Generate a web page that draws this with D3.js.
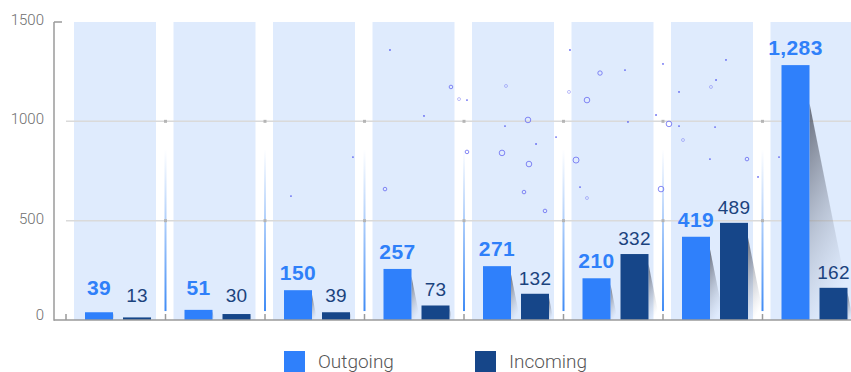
<!DOCTYPE html>
<html>
<head>
<meta charset="utf-8">
<script src="https://cdn.jsdelivr.net/npm/d3@7/dist/d3.min.js"></script>
<style>
  html, body { margin: 0; padding: 0; background: #fff; overflow: hidden; }
  svg { display: block; }
</style>
</head>
<body>
<svg id="chart" width="851" height="372"></svg>
<script>
// ---- data ----
const categories = ["A", "B", "C", "D", "E", "F", "G", "H"];
const seriesNames = ["Outgoing", "Incoming"];
const outgoing = [39, 51, 150, 257, 271, 210, 419, 1283];
const incoming = [13, 30, 39, 73, 132, 332, 489, 162];
const yTicks = [0, 500, 1000, 1500];

// decorative particles, in (category position, value) units
const ringParticles = [
  [4.643, 1007, 2.8], [4.382, 841, 2.8], [4.653, 785, 2.8], [5.236, 1107, 2.8],
  [5.126, 805, 3.0], [5.367, 1243, 2.2], [6.060, 987, 2.8], [5.980, 659, 2.8],
  [6.844, 810, 1.8], [4.603, 644, 1.8], [4.814, 549, 1.8], [3.869, 1173, 1.8],
  [3.206, 659, 1.8], [4.030, 846, 1.8], [4.422, 1178, 1.5], [6.482, 1173, 1.5],
  [6.201, 906, 1.5], [5.055, 1148, 1.5], [5.236, 614, 1.5], [3.950, 1112, 1.5]
];
const dotParticles = [
  [3.256, 1359], [4.030, 1107], [3.598, 1027], [2.884, 820], [2.261, 624],
  [4.412, 976], [4.724, 886], [4.925, 921], [5.618, 1258], [5.648, 997],
  [5.930, 1032], [6.000, 1289], [6.161, 976], [6.161, 1148], [6.533, 1208],
  [6.523, 971], [6.633, 1309], [6.472, 810], [5.065, 1359], [7.166, 820],
  [6.955, 720], [5.166, 669]
];

// ---- colours & fonts ----
const colors = { Outgoing: "#2f80fb", Incoming: "#164689" };
const labelColors = { Outgoing: "#2f80f9", Incoming: "#1b437e" };
const thinFont = "Roboto, 'Liberation Sans', sans-serif";
const labelFont = "'Liberation Sans', Arial, sans-serif";

// ---- scales ----
const axisLeft = 54, axisRight = 851;
const y = d3.scaleLinear().domain([0, 1500]).range([320, 22]);
const x = d3.scaleBand().domain(categories).range([66, 862]).paddingInner(0).paddingOuter(0);
const xPos = d3.scaleLinear().domain([0, categories.length]).range(x.range());
const colInset = 8, colWidth = 82;
const sub = d3.scaleBand().domain(seriesNames).range([19, 85]).paddingInner(0.2632).paddingOuter(0);

const svg = d3.select("#chart");
const defs = svg.append("defs");

// shadow gradient (fades downward)
const sg = defs.append("linearGradient").attr("id", "shadowGrad")
  .attr("x1", 0).attr("y1", 0).attr("x2", 0.35).attr("y2", 1);
sg.append("stop").attr("offset", "0%").attr("stop-color", "#4b4f5c").attr("stop-opacity", 0.8);
sg.append("stop").attr("offset", "55%").attr("stop-color", "#6a7080").attr("stop-opacity", 0.32);
sg.append("stop").attr("offset", "100%").attr("stop-color", "#8a93a8").attr("stop-opacity", 0.0);

// separator gradient (transparent at top, blue at bottom)
const lg = defs.append("linearGradient").attr("id", "sepGrad")
  .attr("gradientUnits", "userSpaceOnUse")
  .attr("x1", 0).attr("y1", y(860)).attr("x2", 0).attr("y2", y(45));
lg.append("stop").attr("offset", "0%").attr("stop-color", "#ffffff").attr("stop-opacity", 0.9);
lg.append("stop").attr("offset", "100%").attr("stop-color", "#3f8bf5").attr("stop-opacity", 1);

// ---- column backgrounds ----
svg.append("g").selectAll("rect").data(categories).join("rect")
  .attr("x", d => x(d) + colInset)
  .attr("y", y(1500))
  .attr("width", colWidth)
  .attr("height", y(0) - y(1500))
  .attr("fill", "#dfebfd");

// ---- separators between columns ----
svg.append("g").selectAll("rect").data(categories.slice(1)).join("rect")
  .attr("x", d => x(d) - 1)
  .attr("y", y(860))
  .attr("width", 2)
  .attr("height", y(45) - y(860))
  .attr("fill", "url(#sepGrad)");

// ---- gridlines ----
const grid = svg.append("g");
grid.selectAll("line").data(yTicks.filter(t => t > 0 && t < 1500)).join("line")
  .attr("x1", x.range()[0]).attr("x2", axisRight)
  .attr("y1", d => y(d)).attr("y2", d => y(d))
  .attr("stroke", "#dadada").attr("stroke-width", 1.5);
// small marks where gridlines cross the column boundaries
const crossings = [];
yTicks.filter(t => t > 0 && t < 1500).forEach(t => categories.slice(1).forEach(c => crossings.push([c, t])));
grid.selectAll("rect").data(crossings).join("rect")
  .attr("x", d => x(d[0]) - 1.5).attr("y", d => y(d[1]) - 1.5)
  .attr("width", 3).attr("height", 3).attr("fill", "#b5b5b5");

// ---- particles ----
const pg = svg.append("g");
pg.selectAll("circle.ring").data(ringParticles).join("circle")
  .attr("class", "ring")
  .attr("cx", d => xPos(d[0])).attr("cy", d => y(d[1])).attr("r", d => d[2])
  .attr("fill", "none").attr("stroke", "#6f72f2")
  .attr("stroke-opacity", d => d[2] < 1.7 ? 0.45 : 0.85).attr("stroke-width", 1);
pg.selectAll("circle.dot").data(dotParticles).join("circle")
  .attr("class", "dot")
  .attr("cx", d => xPos(d[0])).attr("cy", d => y(d[1])).attr("r", 0.9)
  .attr("fill", "#4a4ff0").attr("fill-opacity", 0.85);

// ---- bars with their shadows ----
const rows = [];
categories.forEach((c, i) => {
  rows.push({ cat: c, series: "Outgoing", value: outgoing[i] });
  rows.push({ cat: c, series: "Incoming", value: incoming[i] });
});
const barX = d => x(d.cat) + sub(d.series);

svg.append("g").selectAll("path").data(rows).join("path")
  .attr("d", d => {
    const xr = barX(d) + sub.bandwidth();
    const top = y(d.value), base = y(0), h = base - top;
    return `M${xr},${top + 0.15 * h} L${xr + 0.17 * h},${base} L${xr},${base} Z`;
  })
  .attr("fill", "url(#shadowGrad)");

svg.append("g").selectAll("rect").data(rows).join("rect")
  .attr("x", barX)
  .attr("y", d => y(d.value))
  .attr("width", sub.bandwidth())
  .attr("height", d => y(0) - y(d.value))
  .attr("fill", d => colors[d.series]);

// ---- value labels ----
const fmt = d3.format(",");
svg.append("g").selectAll("text").data(rows).join("text")
  .attr("x", d => barX(d) + sub.bandwidth() / 2)
  .attr("y", d => d.series === "Outgoing"
    ? Math.min(y(d.value) - 10, y(0) - 25)
    : Math.min(y(d.value) - 9, y(0) - 18))
  .attr("text-anchor", "middle")
  .attr("font-family", labelFont)
  .attr("font-size", d => d.series === "Outgoing" ? 21 : 19)
  .attr("font-weight", d => d.series === "Outgoing" ? "bold" : "normal")
  .attr("letter-spacing", d => d.series === "Outgoing" ? 0.4 : 0.3)
  .attr("fill", d => labelColors[d.series])
  .text(d => fmt(d.value));

// ---- axes ----
const axisG = svg.append("g");
axisG.append("line")
  .attr("x1", axisLeft).attr("x2", axisLeft)
  .attr("y1", y(1500)).attr("y2", y(0) + 0.75)
  .attr("stroke", "#9a9a9a").attr("stroke-width", 1.5);
axisG.append("line")
  .attr("x1", axisLeft).attr("x2", axisLeft + 8)
  .attr("y1", y(1500)).attr("y2", y(1500))
  .attr("stroke", "#9a9a9a").attr("stroke-width", 1.5);
axisG.append("line")
  .attr("x1", axisLeft).attr("x2", axisRight)
  .attr("y1", y(0)).attr("y2", y(0))
  .attr("stroke", "#9a9a9a").attr("stroke-width", 1.5);
axisG.selectAll("line.xt").data(categories).join("line")
  .attr("class", "xt")
  .attr("x1", d => x(d)).attr("x2", d => x(d))
  .attr("y1", y(0) - 6).attr("y2", y(0))
  .attr("stroke", "#9a9a9a").attr("stroke-width", 1.5);
axisG.selectAll("text").data(yTicks).join("text")
  .attr("x", 44)
  .attr("y", d => d === 0 ? y(d) : y(d) + 3)
  .attr("text-anchor", "end")
  .attr("font-family", thinFont)
  .attr("font-weight", 300)
  .attr("font-size", 15)
  .attr("fill", "#6e6e6e")
  .text(d => d);

// ---- legend ----
const legendX = d3.scaleOrdinal().domain(seriesNames).range([284, 475]);
const lgG = svg.append("g").selectAll("g").data(seriesNames).join("g")
  .attr("transform", d => `translate(${legendX(d)},351)`);
lgG.append("rect").attr("width", 21).attr("height", 21).attr("fill", d => colors[d]);
lgG.append("text")
  .attr("x", 34).attr("y", 16.5)
  .attr("font-family", thinFont).attr("font-weight", 300)
  .attr("font-size", 19).attr("fill", "#555")
  .text(d => d);
</script>
</body>
</html>
